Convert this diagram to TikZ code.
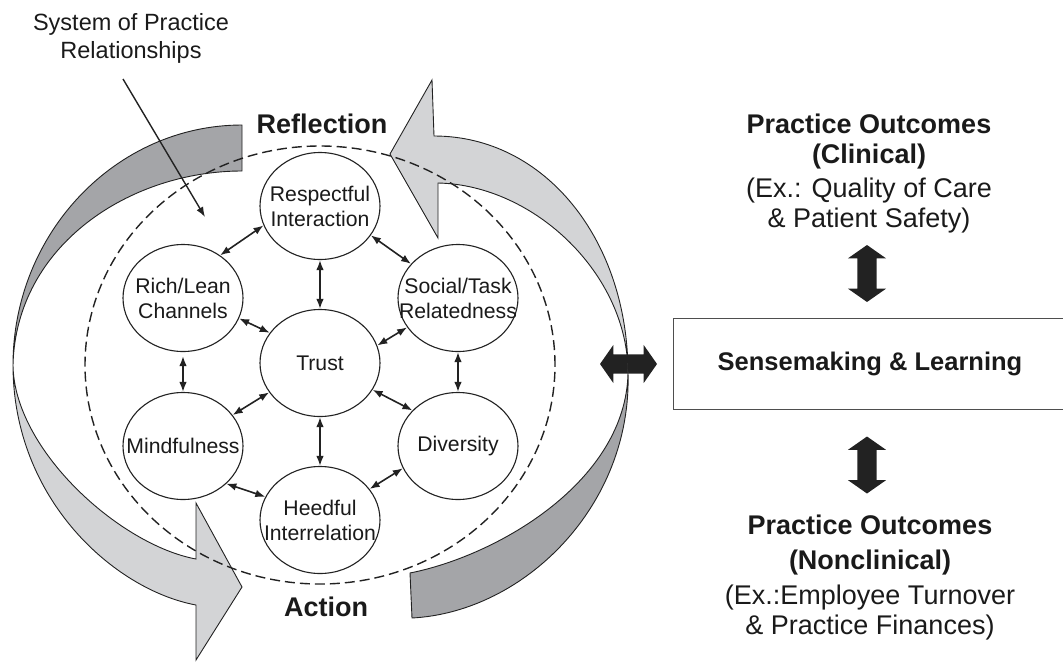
\documentclass[tikz,border=0pt]{standalone}
\usepackage{fontspec}
\setmainfont{Liberation Sans}
\usetikzlibrary{arrows.meta,shapes.geometric,shapes.arrows}
\definecolor{ribbondark}{HTML}{A4A5A8}
\definecolor{ribbonlight}{HTML}{D3D4D6}
\definecolor{inkline}{HTML}{222222}
\definecolor{inktext}{HTML}{1A1A1A}
\begin{document}
\begin{tikzpicture}[x=1pt,y=-1pt,
  every node/.style={text=inktext},
  conceptlabel/.style={align=center,inner sep=0pt,
    font=\fontsize{21.2}{25}\selectfont},
  concept/.style={ellipse,draw=inkline,line width=1.1pt,fill=white,
    minimum width=120pt,minimum height=107pt,inner sep=0pt,
    label={[conceptlabel]center:#1}},
  link/.style={{Latex[length=10pt,width=7.5pt]}-{Latex[length=10pt,width=7.5pt]},
    line width=1.6pt,draw=inkline},
  ribbon/.style={draw=inkline,line width=0.9pt,line join=miter},
  bigarrow/.style={double arrow,fill=inkline,draw=none,inner xsep=0pt,
    inner ysep=9.5pt,double arrow head extend=9.5pt,minimum height=57pt,
    double arrow tip angle=110},
  loopword/.style={font=\bfseries\fontsize{27}{31}\selectfont,inner sep=0pt},
  outcome/.style={align=center,font=\fontsize{27}{30}\selectfont,inner sep=0pt},
]
\useasboundingbox (0,0) rectangle (1063,662);
\clip (0,0) rectangle (1063,662);

% ---- reflection / action loop: two twisted ribbon arrows ----
% left ribbon, upper dark half
\path[ribbon,fill=ribbondark]
  (242,125) -- (242,171)
  .. controls (130,171) and (16,245) .. (13,365)
  .. controls (13,233) and (116,125) .. (242,125) -- cycle;
% left ribbon, lower light half with head pointing to action
\path[ribbon,fill=ribbonlight]
  (13,365) .. controls (14,450) and (120,545) .. (196,559)
  -- (196,503) -- (242,587) -- (196,660) -- (196,605)
  .. controls (115,590) and (13,500) .. (13,365) -- cycle;

% link between the loop and sensemaking
\node[bigarrow] (hlink) at (628.5,364) {};

% right ribbon, lower dark half (tail)
\path[ribbon,fill=ribbondark]
  (628,373) .. controls (632,505) and (525,612) .. (412,618)
  -- (410,573) .. controls (500,555) and (626,480) .. (628,373) -- cycle;
% right ribbon, upper light half with head pointing to reflection
\path[ribbon,fill=ribbonlight]
  (628,373) .. controls (628,240) and (545,136) .. (434,136)
  -- (432,80) -- (390,154) -- (438,238) -- (438,183)
  .. controls (535,185) and (628,275) .. (628,373) -- cycle;

% system boundary
\draw[draw=inkline,line width=1.4pt,dash pattern=on 10pt off 5pt]
  (320,365) ellipse [x radius=235pt, y radius=219pt];

% ---- relationship dimensions ----
\node[concept={Respectful\\Interaction}]   (resp)   at (320,206) {};
\node[concept={Rich/Lean\\Channels}]       (rich)   at (183,298) {};
\node[concept={Social/Task\\Relatedness}]  (social) at (458,298) {};
\node[concept={Trust}]                     (trust)  at (320,363) {};
\node[concept={Mindfulness}]               (mind)   at (183,446) {};
\node[concept={Diversity}]                 (div)    at (458,446) {};
\node[concept={Heedful\\Interrelation}]    (heed)   at (320,520) {};

\draw[link] (resp.199) -- (rich.49);
\draw[link] (resp.south) -- (trust.north);
\draw[link] (resp.330) -- (social.144);
\draw[link] (rich.340) -- (trust.149);
\draw[link,shorten <=4pt] (rich.south) -- (mind.north);
\draw[link] (trust.210) -- (mind.32);
\draw[link] (trust.17) -- (social.210);
\draw[link] (trust.333) -- (div.142);
\draw[link] (trust.south) -- (heed.north);
\draw[link] (social.south) -- (div.north);
\draw[link] (mind.319) -- (heed.157);
\draw[link] (heed.32) -- (div.202);

% ---- labels ----
\node[align=center,inner sep=0pt,font=\fontsize{23.5}{28}\selectfont]
  (sys) at (131,38) {System of Practice\\Relationships};
\coordinate (systail) at (123,79);
\coordinate (systip) at (205,217);
\draw[-{Latex[length=10pt,width=7.5pt]},line width=1.4pt,draw=inkline]
  (systail) -- (systip);

\node[loopword] (refl) at (322,124) {Reflection};
\node[loopword] (act)  at (326,607) {Action};

% ---- sensemaking and outcomes ----
\node[draw=inkline!80,line width=1pt,minimum width=394pt,minimum height=91pt,
  inner sep=0pt,font=\bfseries\fontsize{25.5}{30}\selectfont]
  (sense) at (870,363.5) {Sensemaking \& Learning};

\node[outcome] (clin) at (869,174)
  {\textbf{Practice Outcomes}\\\textbf{(Clinical)}\\[4pt]
   (Ex.: Quality of Care\\\& Patient Safety)};
\node[outcome] (nonclin) at (870,578)
  {\textbf{Practice Outcomes}\\[5pt]\textbf{(Nonclinical)}\\[5pt]
   (Ex.:Employee Turnover\\\& Practice Finances)};

\node[bigarrow,rotate=90] (vlinkA) at (867,273.5) {};
\node[bigarrow,rotate=90] (vlinkB) at (867,465) {};
\end{tikzpicture}
\end{document}
